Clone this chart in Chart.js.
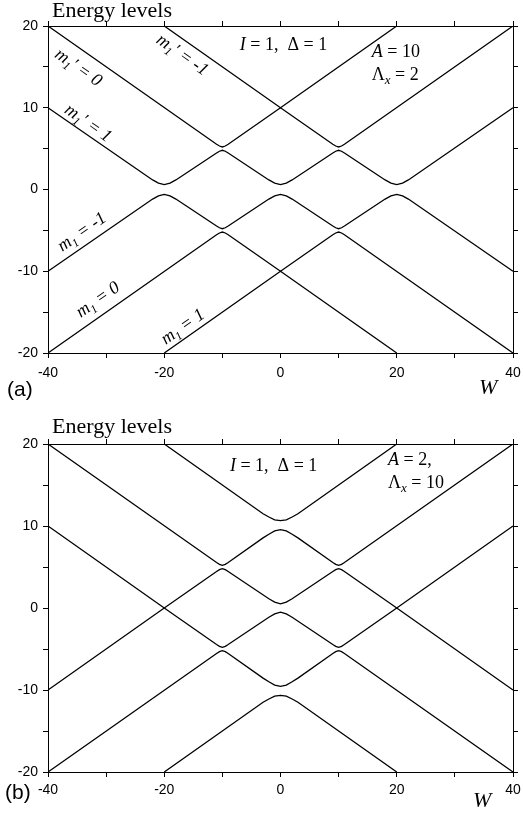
<!DOCTYPE html>
<html>
<head>
<meta charset="utf-8">
<script src="https://cdn.jsdelivr.net/npm/chart.js@4.4.1/dist/chart.umd.min.js"></script>
<style>
  body { margin: 0; background: #fff; }
  .panel { position: absolute; left: 0; width: 523px; }
</style>
</head>
<body>
<div class="panel" style="top:0;height:411px"><canvas id="chartA" width="523" height="411"></canvas></div>
<div class="panel" style="top:411px;height:412px"><canvas id="chartB" width="523" height="412"></canvas></div>
<script>
// axis ranges and labelled ticks
const wRange = [-40, 40];
const eRange = [-20, 20];
const wLabels = [-40, -20, 0, 20, 40];
const eLabels = [-20, -10, 0, 10, 20];

// (a) A = 10, Lambda_x = 2 : six levels, top to bottom, [W, E]
const levelA1 = [[-20, 20], [0, 10], [20, 20]];
const levelA2 = [[-40, 20], [-11, 5.54], [-10.5, 5.32], [-10, 5.2], [-9.5, 5.32], [-9, 5.54], [0, 10],
  [9, 5.54], [9.5, 5.32], [10, 5.2], [10.5, 5.32], [11, 5.54], [40, 20]];
const levelA3 = [[-40, 10], [-22, 1.17], [-21, 0.78], [-20, 0.6], [-19, 0.78], [-18, 1.17],
  [-11, 4.46], [-10.5, 4.68], [-10, 4.8], [-9.5, 4.68], [-9, 4.46],
  [-2, 1.17], [-1, 0.78], [0, 0.6], [1, 0.78], [2, 1.17],
  [9, 4.46], [9.5, 4.68], [10, 4.8], [10.5, 4.68], [11, 4.46],
  [18, 1.17], [19, 0.78], [20, 0.6], [21, 0.78], [22, 1.17], [40, 10]];
const levelA4 = [[-40, -10], [-22, -1.17], [-21, -0.78], [-20, -0.6], [-19, -0.78], [-18, -1.17],
  [-11, -4.46], [-10.5, -4.68], [-10, -4.8], [-9.5, -4.68], [-9, -4.46],
  [-2, -1.17], [-1, -0.78], [0, -0.6], [1, -0.78], [2, -1.17],
  [9, -4.46], [9.5, -4.68], [10, -4.8], [10.5, -4.68], [11, -4.46],
  [18, -1.17], [19, -0.78], [20, -0.6], [21, -0.78], [22, -1.17], [40, -10]];
const levelA5 = [[-40, -20], [-11, -5.54], [-10.5, -5.32], [-10, -5.2], [-9.5, -5.32], [-9, -5.54], [0, -10],
  [9, -5.54], [9.5, -5.32], [10, -5.2], [10.5, -5.32], [11, -5.54], [40, -20]];
const levelA6 = [[-20, -20], [0, -10], [20, -20]];

// (b) A = 2, Lambda_x = 10
const levelB1 = [[-20, 20], [-3, 11.5], [-2, 11.1], [-1, 10.75], [0, 10.65], [1, 10.75], [2, 11.1], [3, 11.5], [20, 20]];
const levelB2 = [[-40, 20], [-11, 5.54], [-10.5, 5.32], [-10, 5.2], [-9.5, 5.32], [-9, 5.54],
  [-3, 8.55], [-2, 9.0], [-1, 9.4], [0, 9.55], [1, 9.4], [2, 9.0], [3, 8.55],
  [9, 5.54], [9.5, 5.32], [10, 5.2], [10.5, 5.32], [11, 5.54], [40, 20]];
const levelB3 = [[-40, 10], [-20, 0], [-11, 4.46], [-10.5, 4.68], [-10, 4.8], [-9.5, 4.68], [-9, 4.46],
  [-2, 1.12], [-1, 0.71], [0, 0.5], [1, 0.71], [2, 1.12],
  [9, 4.46], [9.5, 4.68], [10, 4.8], [10.5, 4.68], [11, 4.46], [20, 0], [40, 10]];
const levelB4 = [[-40, -10], [-20, 0], [-11, -4.46], [-10.5, -4.68], [-10, -4.8], [-9.5, -4.68], [-9, -4.46],
  [-2, -1.12], [-1, -0.71], [0, -0.5], [1, -0.71], [2, -1.12],
  [9, -4.46], [9.5, -4.68], [10, -4.8], [10.5, -4.68], [11, -4.46], [20, 0], [40, -10]];
const levelB5 = [[-40, -20], [-11, -5.54], [-10.5, -5.32], [-10, -5.2], [-9.5, -5.32], [-9, -5.54],
  [-3, -8.55], [-2, -9.0], [-1, -9.4], [0, -9.55], [1, -9.4], [2, -9.0], [3, -8.55],
  [9, -5.54], [9.5, -5.32], [10, -5.2], [10.5, -5.32], [11, -5.54], [40, -20]];
const levelB6 = [[-20, -20], [-3, -11.5], [-2, -11.1], [-1, -10.75], [0, -10.65], [1, -10.75], [2, -11.1], [3, -11.5], [20, -20]];

const SERIF = '"Liberation Serif", "Times New Roman", serif';
const SANS = '"Liberation Sans", Arial, sans-serif';

// rich text pieces: [text, 'i' italic | 'n' normal, size, drop]
const mLabel = (prime, val) => [['m', 'i', 18, 0], ['1', 'i', 12, 4]]
  .concat(prime ? [['\u2032', 'i', 18, 0]] : [])
  .concat([[' = ' + val, 'i', 18, 0]]);
const couplingText = [['I', 'i', 18, 0], [' = 1,  ', 'n', 18, 0], ['\u0394', 'n', 18, 0], [' = 1', 'n', 18, 0]];

const notesA = [
  { parts: couplingText, at: [-7, 17.1] },
  { parts: [['A', 'i', 18, 0], [' = 10', 'n', 18, 0]], at: [15.7, 16.2] },
  { parts: [['\u039B', 'n', 18, 0], ['x', 'i', 13, 4], [' = 2', 'n', 18, 0]], at: [15.7, 13.4] },
  { parts: mLabel(true, '0'), at: [-34.8, 14.9], slope: -1 },
  { parts: mLabel(true, '-1'), at: [-16.9, 16.45], slope: -1 },
  { parts: mLabel(true, '1'), at: [-33.1, 8.1], slope: -1 },
  { parts: mLabel(false, '-1'), at: [-34.15, -5.2], slope: 1 },
  { parts: mLabel(false, '0'), at: [-31.4, -13.5], slope: 1 },
  { parts: mLabel(false, '1'), at: [-16.8, -16.8], slope: 1 }
];
const notesB = [
  { parts: couplingText, at: [-8.7, 16.7] },
  { parts: [['A', 'i', 18, 0], [' = 2,', 'n', 18, 0]], at: [18.5, 17.4] },
  { parts: [['\u039B', 'n', 18, 0], ['x', 'i', 13, 4], [' = 10', 'n', 18, 0]], at: [18.5, 14.6] }
];

function drawParts(ctx, parts, x, y, center) {
  const font = p => (p[1] === 'i' ? 'italic ' : '') + p[2] + 'px ' + SERIF;
  let w = 0;
  parts.forEach(p => { ctx.font = font(p); w += ctx.measureText(p[0]).width; });
  let cx = center ? x - w / 2 : x;
  parts.forEach(p => {
    ctx.font = font(p);
    ctx.fillText(p[0], cx, y + p[3]);
    cx += ctx.measureText(p[0]).width;
  });
}

function labelPlugin(notes, look) {
  return {
    id: 'labels',
    afterDraw(chart) {
      const { ctx, chartArea: a, scales: { x, y } } = chart;
      ctx.save();
      ctx.fillStyle = '#000';
      ctx.textBaseline = 'alphabetic';
      ctx.textAlign = 'left';
      ctx.font = '22px ' + SERIF;
      ctx.fillText('Energy levels', a.left + 4, a.top + look.titleDy);
      ctx.font = 'italic 22px ' + SERIF;
      ctx.fillText('W', a.right + look.wDx, a.bottom + look.wDy);
      ctx.font = '21px ' + SANS;
      ctx.fillText(look.tag, look.tagX, a.bottom + look.tagDy);
      const kx = (x.getPixelForValue(10) - x.getPixelForValue(0)) / 10;
      const ky = (y.getPixelForValue(0) - y.getPixelForValue(10)) / 10;
      const ang = Math.atan(0.5 * ky / kx);
      notes.forEach(n => {
        const px = x.getPixelForValue(n.at[0]);
        const py = y.getPixelForValue(n.at[1]);
        if (n.slope) {
          ctx.save();
          ctx.translate(px, py);
          ctx.rotate(n.slope < 0 ? ang : -ang);
          drawParts(ctx, n.parts, 0, 5, true);
          ctx.restore();
        } else {
          drawParts(ctx, n.parts, px, py, false);
        }
      });
      ctx.restore();
    }
  };
}

function frame(pos, range, step, keep, showLabels, size, pad) {
  const vertical = pos === 'left' || pos === 'right';
  return {
    type: 'linear',
    position: pos,
    axis: vertical ? 'y' : 'x',
    min: range[0],
    max: range[1],
    border: { display: true, color: '#000', width: 1 },
    grid: { display: true, drawOnChartArea: false, drawTicks: true, tickLength: 5, color: '#000', lineWidth: 1 },
    ticks: {
      display: showLabels,
      stepSize: step,
      autoSkip: false,
      maxRotation: 0,
      padding: pad,
      color: '#000',
      font: { family: SANS, size: 14 },
      callback: v => (keep.includes(v) ? String(v) : '')
    },
    afterFit: s => {
      // fixed frame: end labels may hang over the edges, as in the figure
      if (vertical) {
        s.width = size;
        s.paddingTop = 0;
        s.paddingBottom = 0;
      } else {
        s.height = size;
        s.paddingLeft = 0;
        s.paddingRight = 0;
      }
    }
  };
}

function buildChart(id, levels, notes, look) {
  return new Chart(document.getElementById(id), {
    type: 'scatter',
    data: {
      datasets: levels.map(pts => ({
        data: pts.map(([w, e]) => ({ x: w, y: e })),
        showLine: true,
        borderColor: '#000',
        borderWidth: 1.3,
        pointRadius: 0,
        tension: 0,
        fill: false
      }))
    },
    options: {
      responsive: false,
      animation: false,
      events: [],
      layout: { padding: look.padding },
      plugins: { legend: { display: false }, tooltip: { enabled: false } },
      scales: {
        x: frame('bottom', wRange, 10, wLabels, true, 30, look.xPad),
        y: frame('left', eRange, 5, eLabels, true, 48, 5),
        x2: frame('top', wRange, 10, wLabels, false, 5, 0),
        y2: frame('right', eRange, 5, eLabels, false, 5, 0)
      }
    },
    plugins: [labelPlugin(notes, look)]
  });
}

buildChart('chartA', [levelA1, levelA2, levelA3, levelA4, levelA5, levelA6], notesA, {
  padding: { left: 0, right: 5, top: 21, bottom: 28 },
  xPad: 7, titleDy: -9, wDx: -34, wDy: 41, tag: '(a)', tagX: 7, tagDy: 43
});
buildChart('chartB', [levelB1, levelB2, levelB3, levelB4, levelB5, levelB6], notesB, {
  padding: { left: 0, right: 5, top: 28, bottom: 21 },
  xPad: 5, titleDy: -11, wDx: -40, wDy: 35, tag: '(b)', tagX: 5, tagDy: 27
});
</script>
</body>
</html>
